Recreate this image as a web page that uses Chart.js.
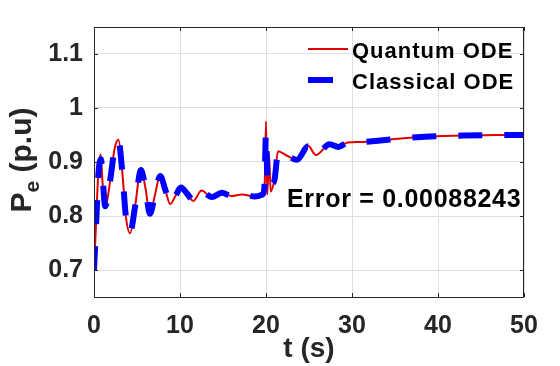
<!DOCTYPE html>
<html lang="en">
<head>
  <meta charset="UTF-8">
  <title>Pe response</title>
  <script src="https://cdn.jsdelivr.net/npm/chart.js"></script>
  <style>
    body { margin:0; background:#fff; }
    #wrap { width:560px; height:366px; }
  </style>
</head>
<body>
  <div id="wrap"><canvas id="peChart" width="560" height="366"></canvas></div>
  <script>
    // time axis (s) and Pe values (p.u)
    const quantumT = [0, 0.25, 0.5, 0.77, 1.0, 1.28, 1.6, 2.0, 2.4, 2.85, 3.3, 3.7, 4.2, 4.8, 5.45, 6.0, 6.5, 7.1, 7.7, 8.3, 8.85, 9.5, 10.1, 10.8, 11.55, 12.5, 13.7, 14.85, 16.0, 17.2, 18.7, 19.6, 19.85, 20.0, 20.15, 20.35, 20.55, 21.0, 21.4, 22.4, 23.6, 24.9, 25.8, 27.4, 28.4, 29.5, 31, 33.3, 36, 39, 43, 47, 50];
    const quantumPe = [0.700, 0.790, 0.880, 0.914, 0.860, 0.815, 0.835, 0.880, 0.925, 0.941, 0.880, 0.800, 0.768, 0.820, 0.888, 0.850, 0.802, 0.840, 0.876, 0.848, 0.822, 0.838, 0.854, 0.842, 0.828, 0.847, 0.835, 0.843, 0.837, 0.840, 0.836, 0.840, 0.860, 0.975, 0.840, 0.915, 0.845, 0.870, 0.920, 0.912, 0.904, 0.930, 0.913, 0.933, 0.928, 0.936, 0.937, 0.940, 0.944, 0.947, 0.949, 0.950, 0.950];

    const classicalT = [0, 0.25, 0.5, 0.8, 1.05, 1.3, 1.6, 2.0, 2.4, 2.85, 3.3, 3.7, 4.2, 4.8, 5.45, 6.0, 6.5, 7.1, 7.7, 8.3, 8.85, 9.5, 10.1, 10.8, 11.55, 12.5, 13.7, 14.85, 16.0, 17.2, 18.7, 19.6, 19.8, 20.0, 20.2, 20.6, 21.0, 21.4, 22.4, 23.6, 24.9, 25.8, 27.4, 28.4, 29.5, 31, 33.3, 36, 39, 43, 47, 50];
    const classicalPe = [0.700, 0.785, 0.875, 0.905, 0.860, 0.818, 0.835, 0.880, 0.925, 0.938, 0.880, 0.800, 0.770, 0.820, 0.885, 0.850, 0.804, 0.840, 0.874, 0.848, 0.823, 0.838, 0.853, 0.842, 0.829, 0.846, 0.835, 0.843, 0.837, 0.840, 0.836, 0.840, 0.850, 0.953, 0.850, 0.858, 0.868, 0.918, 0.912, 0.904, 0.929, 0.913, 0.933, 0.928, 0.936, 0.937, 0.940, 0.944, 0.947, 0.949, 0.950, 0.950];

    const xTicks = [0, 10, 20, 30, 40, 50];
    const yTicks = [0.7, 0.8, 0.9, 1.0, 1.1];
    const errorText = 'Error = 0.00088243';

    const FONT = "'Liberation Sans', Arial, sans-serif";
    const INK = '#262626';

    // box, inward ticks, y title with subscript, legend and error note
    const decor = {
      id: 'decor',
      afterDatasetsDraw(chart) {
        const { ctx, chartArea: a, scales: { x, y } } = chart;
        ctx.save();
        ctx.strokeStyle = INK;
        ctx.lineWidth = 1;
        ctx.strokeRect(a.left + 0.5, a.top + 0.5, a.right - a.left - 1, a.bottom - a.top);
        ctx.beginPath();
        xTicks.forEach(v => {
          const px = Math.round(x.getPixelForValue(v)) + 0.5;
          ctx.moveTo(px, a.bottom); ctx.lineTo(px, a.bottom - 4);
          ctx.moveTo(px, a.top); ctx.lineTo(px, a.top + 4);
        });
        yTicks.forEach(v => {
          const py = Math.round(y.getPixelForValue(v)) + 0.5;
          ctx.moveTo(a.left, py); ctx.lineTo(a.left + 4, py);
          ctx.moveTo(a.right, py); ctx.lineTo(a.right - 4, py);
        });
        ctx.stroke();

        // legend
        const ds = chart.data.datasets;
        const items = [ds[1], ds[0]];
        ctx.textBaseline = 'alphabetic';
        ctx.textAlign = 'left';
        ctx.font = 'bold 22px ' + FONT;
        ctx.letterSpacing = '1px';
        items.forEach((d, i) => {
          const ly = 49 + i * 31;
          ctx.strokeStyle = d.borderColor;
          ctx.lineWidth = d.borderWidth;
          ctx.setLineDash([]);
          ctx.beginPath();
          ctx.moveTo(308, ly);
          ctx.lineTo(i === 0 ? 348 : 333, ly);
          ctx.stroke();
          ctx.fillStyle = '#000';
          ctx.fillText(d.label, 352, ly + 9);
        });

        // error note
        ctx.font = 'bold 25px ' + FONT;
        ctx.letterSpacing = '0.7px';
        ctx.fillStyle = '#000';
        ctx.fillText(errorText, 287, 207);
        ctx.letterSpacing = '0px';

        // y title  P_e (p.u)
        ctx.translate(31, 160);
        ctx.rotate(-Math.PI / 2);
        ctx.fillStyle = INK;
        ctx.font = 'bold 30px ' + FONT;
        const wP = ctx.measureText('P').width;
        const wRest = ctx.measureText(' (p.u)').width;
        ctx.font = 'bold 21px ' + FONT;
        const wE = ctx.measureText('e').width;
        let sx = -(wP + wE + wRest) / 2;
        ctx.font = 'bold 30px ' + FONT;
        ctx.fillText('P', sx, 0);
        sx += wP;
        ctx.font = 'bold 21px ' + FONT;
        ctx.fillText('e', sx, 8);
        sx += wE;
        ctx.font = 'bold 30px ' + FONT;
        ctx.fillText(' (p.u)', sx, 0);
        ctx.restore();
      }
    };

    new Chart(document.getElementById('peChart'), {
      type: 'line',
      data: {
        datasets: [
          {
            label: 'Classical ODE',
            data: classicalT.map((t, i) => ({ x: t, y: classicalPe[i] })),
            borderColor: 'rgb(0,0,255)',
            borderWidth: 6,
            borderDash: [24, 22],
            borderCapStyle: 'butt',
            pointRadius: 0,
            cubicInterpolationMode: 'monotone',
            fill: false
          },
          {
            label: 'Quantum ODE',
            data: quantumT.map((t, i) => ({ x: t, y: quantumPe[i] })),
            borderColor: 'rgb(225,0,0)',
            borderWidth: 2,
            pointRadius: 0,
            cubicInterpolationMode: 'monotone',
            fill: false
          }
        ]
      },
      options: {
        responsive: false,
        animation: false,
        layout: { padding: { left: 0, right: 36, top: 27, bottom: 0 } },
        plugins: { legend: { display: false }, tooltip: { enabled: false } },
        scales: {
          x: {
            type: 'linear',
            min: 0,
            max: 50,
            afterBuildTicks: s => { s.ticks = xTicks.map(v => ({ value: v })); },
            afterFit: s => { s.height = 69; },
            grid: { color: '#dfdfdf', drawTicks: false },
            border: { display: false },
            ticks: { color: INK, padding: 14, font: { family: FONT, size: 25, weight: 'bold' }, maxRotation: 0 },
            title: { display: true, text: 't (s)', color: INK, padding: { top: 0, bottom: 0 }, font: { family: FONT, size: 28, weight: 'bold' } }
          },
          y: {
            type: 'linear',
            min: 0.65,
            max: 1.15,
            afterBuildTicks: s => { s.ticks = yTicks.map(v => ({ value: v })); },
            afterFit: s => { s.width = 94; },
            grid: { color: '#dfdfdf', drawTicks: false },
            border: { display: false },
            ticks: { color: INK, padding: 11, font: { family: FONT, size: 25, weight: 'bold' },
              callback: v => String(Math.round(v * 10) / 10) }
          }
        }
      },
      plugins: [decor]
    });
  </script>
</body>
</html>
